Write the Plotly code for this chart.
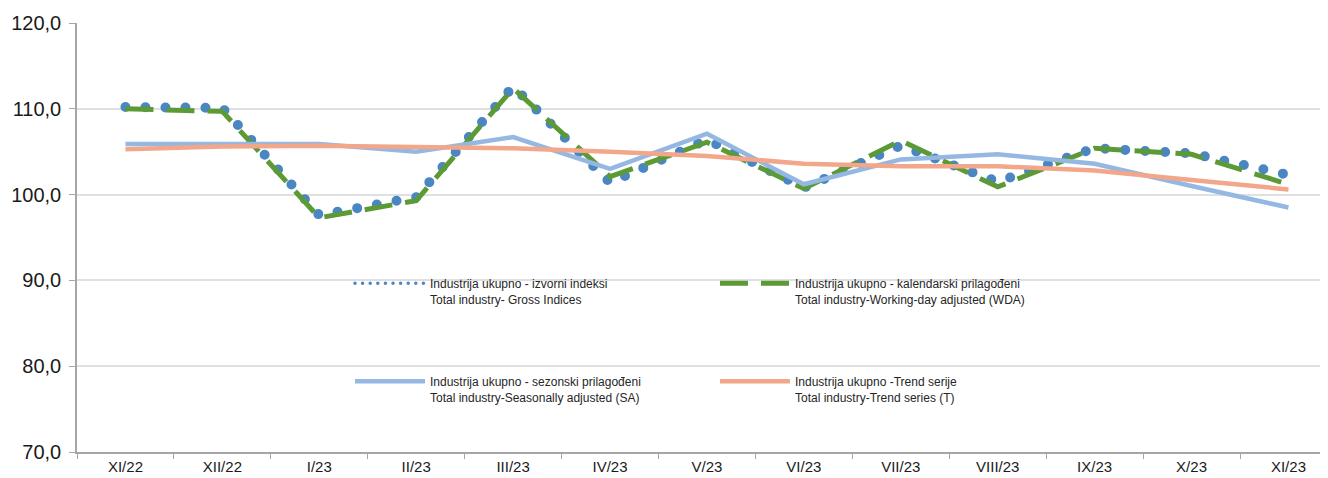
import plotly.graph_objects as go

categories = ["XI/22", "XII/22", "I/23", "II/23", "III/23", "IV/23", "V/23",
              "VI/23", "VII/23", "VIII/23", "IX/23", "X/23", "XI/23"]
gross = [110.2, 110.1, 97.6, 99.7, 112.6, 101.4, 106.4, 100.8, 105.7, 101.5, 105.4, 104.8, 102.3]
wda = [110.0, 109.7, 97.3, 99.3, 112.4, 102.1, 106.1, 100.7, 106.3, 100.9, 105.4, 104.7, 101.2]
sa = [105.9, 105.9, 105.9, 105.0, 106.7, 103.0, 107.1, 101.2, 104.1, 104.7, 103.6, 101.0, 98.5]
trend = [105.3, 105.6, 105.7, 105.5, 105.4, 105.0, 104.5, 103.6, 103.3, 103.3, 102.8, 101.7, 100.6]

names = [
    "Industrija ukupno - izvorni indeksi<br>Total industry- Gross Indices",
    "Industrija ukupno - kalendarski prilagođeni<br>Total industry-Working-day adjusted (WDA)",
    "Industrija ukupno - sezonski prilagođeni<br>Total industry-Seasonally adjusted (SA)",
    "Industrija ukupno -Trend serije<br>Total industry-Trend series (T)",
]

fig = go.Figure()
fig.add_trace(go.Scatter(x=categories, y=gross, mode="lines", name=names[0], legend="legend",
                         line=dict(color="#4A86C2", width=10, dash="0px,20px")))
fig.add_trace(go.Scatter(x=categories, y=wda, mode="lines", name=names[1], legend="legend2",
                         line=dict(color="#5C9A36", width=5, dash="28px,13px")))
fig.add_trace(go.Scatter(x=categories, y=sa, mode="lines", name=names[2], legend="legend3",
                         line=dict(color="#95B8E3", width=4.5)))
fig.add_trace(go.Scatter(x=categories, y=trend, mode="lines", name=names[3], legend="legend4",
                         line=dict(color="#F2A68A", width=4.5)))

lfont = dict(family="Liberation Sans", size=12, color="#262626")

# page has an 8px body margin: figure starts at page (8, 8)
PL, PT, PW, PH = 69, 15, 1251, 429  # plot area in figure coords


def px_x(page_x):
    return (page_x - 8 - PL) / PW


def px_y(page_y):
    return (PT + PH - (page_y - 8)) / PH


def leg(x, y):
    return dict(x=x, y=y, xref="paper", yref="paper", xanchor="left", yanchor="top",
                bgcolor="rgba(0,0,0,0)", borderwidth=0, font=lfont, itemwidth=70,
                valign="top", orientation="v")


fig.update_layout(
    width=1320, height=470,
    margin=dict(l=PL, r=0, t=PT, b=470 - PT - PH),
    paper_bgcolor="white", plot_bgcolor="white",
    separators=", ",
    showlegend=True,
    legend=leg(px_x(350), px_y(269)),
    legend2=leg(px_x(715), px_y(269)),
    legend3=leg(px_x(350), px_y(367)),
    legend4=leg(px_x(715), px_y(367)),
    xaxis=dict(type="category", range=[-0.5, 12.408], showline=True, linecolor="#A6A6A6",
               linewidth=1.5, ticks="outside", tickson="boundaries", ticklen=5,
               tickcolor="#A6A6A6", showgrid=False, automargin=False,
               tickfont=dict(family="Liberation Sans", size=15, color="#1a1a1a")),
    yaxis=dict(range=[70, 120], dtick=10, tickformat=".1f", showline=True,
               linecolor="#A6A6A6", linewidth=1.5, ticks="outside", ticklen=6,
               tickcolor="#A6A6A6", gridcolor="#E0E0E0", gridwidth=1.5, zeroline=False,
               automargin=False, ticklabelstandoff=4,
               tickfont=dict(family="Liberation Sans", size=20, color="#1a1a1a")),
)

js = """
var s = document.createElement('style');
s.textContent = ".scatterlayer .trace:first-of-type path.js-line{stroke-linecap:round !important;}"
 + " g.legend path.js-line{stroke-linecap:round !important; stroke-width:3.5px !important; stroke-dasharray:0px,7.6px !important;}";
document.head.appendChild(s);
"""
fig.write_html("out.html", post_script=js)
